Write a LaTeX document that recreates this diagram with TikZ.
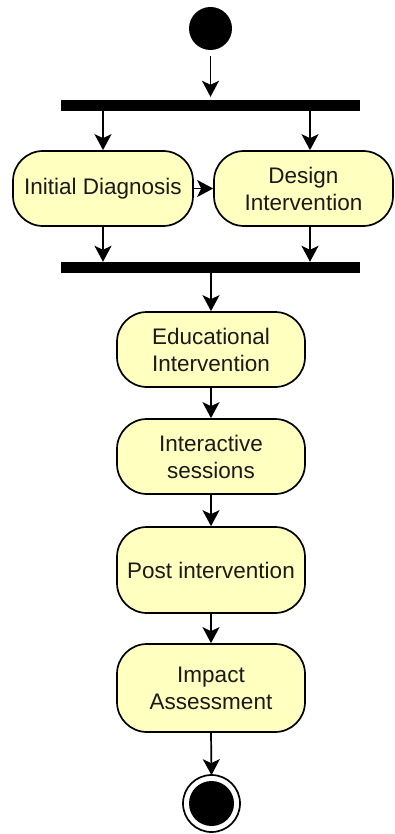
\documentclass[tikz,border=0pt]{standalone}
\usepackage{fontspec}
\setmainfont{Liberation Sans}
\usetikzlibrary{arrows.meta,calc}
\definecolor{actfill}{HTML}{FFFFC0}
\definecolor{inkgray}{HTML}{1A1A1A}
\begin{document}
\begin{tikzpicture}[x=1pt,y=-1pt,
  act/.style={draw=black, line width=1.7pt, fill=actfill, rounded corners=30pt,
    align=center, text=inkgray, font=\fontsize{22.5}{27}\selectfont, inner sep=0pt},
  bar/.style={fill=black, draw=none, inner sep=0pt, minimum width=299pt, minimum height=11pt},
  flow/.style={-{Stealth[length=16pt,width=17pt,inset=4pt]}, line width=1.7pt},
]
\useasboundingbox (0,0) rectangle (394,834);

% initial node and fork
\node[circle, fill=black, minimum size=43pt, inner sep=0pt] (start) at (210.5,28.5) {};
\node[bar] (fork) at (210.5,105.5) {};

% parallel activities
\node[act, minimum width=180pt, minimum height=75pt] (diag) at (103,188.5) {Initial Diagnosis};
\node[act, minimum width=179pt, minimum height=75pt] (design) at (303.5,188.5) {Design\\Intervention};
\coordinate (dtop) at ([xshift=6.5pt]design.north);
\coordinate (dbot) at ([xshift=6.5pt]design.south);

% join
\node[bar] (join) at (210.5,267.5) {};

% sequential activities
\node[act, minimum width=188pt, minimum height=75pt] (edu) at (211,349.5) {Educational\\Intervention};
\node[act, minimum width=188pt, minimum height=75pt] (inter) at (211,456.5) {Interactive\\sessions};
\node[act, minimum width=188pt, minimum height=86pt] (post) at (211,570) {Post intervention};
\node[act, minimum width=188pt, minimum height=88pt] (impact) at (211,688) {Impact\\Assessment};

% final node
\node[circle, draw=black, line width=1.7pt, fill=white, minimum size=57pt, inner sep=0pt] (end) at (211.5,803.5) {};
\node[circle, fill=black, minimum size=45pt, inner sep=0pt] (endin) at (end) {};

% control flows
\draw[flow, shorten <=6pt, shorten >=3pt] (start.south) -- (start.south |- fork.north);
\draw[flow] (fork.south -| diag.north) -- (diag.north);
\draw[flow] (fork.south -| dtop) -- (dtop);
\draw[flow] (diag.east) -- (design.west);
\draw[flow] (diag.south) -- (diag.south |- join.north);
\draw[flow] (dbot) -- (dbot |- join.north);
\draw[flow] (join.south -| edu.north) -- (edu.north);
\draw[flow] (edu.south) -- (inter.north);
\draw[flow] (inter.south) -- (post.north);
\draw[flow] (post.south) -- (impact.north);
\draw[flow, shorten >=-1pt] (impact.south) -- (end.north);
\end{tikzpicture}
\end{document}
